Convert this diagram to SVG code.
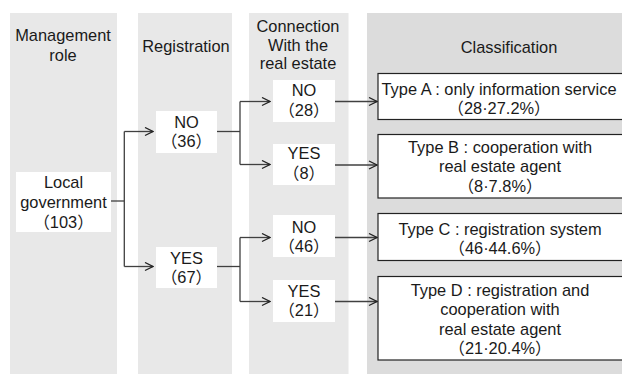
<svg xmlns="http://www.w3.org/2000/svg" width="622" height="374" viewBox="0 0 622 374">
<defs>
<style>
text{font-family:"Liberation Sans","Noto Sans CJK JP",Arial,sans-serif;font-size:16.4px;fill:#1a1a1a;text-anchor:middle}
.col{fill:#e8e8e8}
.col4{fill:#dcdcdc}
.box{fill:#ffffff}
.tbox{fill:#ffffff;stroke:#222;stroke-width:1.2}
.ln{fill:none;stroke:#404040;stroke-width:1.3}
</style>
<marker id="arr" viewBox="0 0 10 10" refX="9" refY="5" markerWidth="10" markerHeight="10" markerUnits="userSpaceOnUse" orient="auto">
<path d="M1,1 L9,5 L1,9" fill="none" stroke="#222" stroke-width="1.3"/>
</marker>
</defs>
<rect width="622" height="374" fill="#ffffff"/>
<g id="columns">
<rect class="col" x="10" y="13" width="107" height="361"/>
<rect class="col" x="138" y="13" width="94" height="361"/>
<rect class="col" x="249" y="13" width="99.5" height="361"/>
<rect class="col4" x="367" y="13" width="255" height="361"/>
<text x="63" y="41">Management</text>
<text x="63" y="61">role</text>
<text x="186" y="52">Registration</text>
<text x="298" y="32">Connection</text>
<text x="298" y="50.5">With the</text>
<text x="298" y="69">real estate</text>
<text x="509" y="53">Classification</text>
</g>
<g id="connectors">
<path class="ln" d="M111,201 H124.3"/>
<path class="ln" d="M124.3,131.5 V266.5"/>
<path class="ln" d="M124.3,131.5 H153" marker-end="url(#arr)"/>
<path class="ln" d="M124.3,266.5 H153" marker-end="url(#arr)"/>
<path class="ln" d="M217,131.5 H240"/>
<path class="ln" d="M240,101.5 V164.5"/>
<path class="ln" d="M240,101.5 H270" marker-end="url(#arr)"/>
<path class="ln" d="M240,164.5 H270" marker-end="url(#arr)"/>
<path class="ln" d="M217,266.5 H240"/>
<path class="ln" d="M240,237.5 V301.5"/>
<path class="ln" d="M240,237.5 H270" marker-end="url(#arr)"/>
<path class="ln" d="M240,301.5 H270" marker-end="url(#arr)"/>
<path class="ln" d="M335,101.5 H377" marker-end="url(#arr)"/>
<path class="ln" d="M335,165 H377" marker-end="url(#arr)"/>
<path class="ln" d="M335,237.5 H377" marker-end="url(#arr)"/>
<path class="ln" d="M335,301.5 H377" marker-end="url(#arr)"/>
</g>
<g id="local">
<rect class="box" x="16" y="172" width="95" height="60"/>
<text x="63.5" y="188">Local</text>
<text x="63.5" y="208">government</text>
<text x="63.5" y="227.5">（103）</text>
</g>
<g id="reg-no">
<rect class="box" x="156" y="111" width="61" height="42"/>
<text x="186.5" y="128">NO</text>
<text x="186.5" y="147">（36）</text>
</g>
<g id="reg-yes">
<rect class="box" x="156" y="247" width="61" height="41"/>
<text x="186.5" y="264">YES</text>
<text x="186.5" y="283">（67）</text>
</g>
<g id="con-no-28">
<rect class="box" x="273" y="80" width="62" height="42"/>
<text x="304" y="96">NO</text>
<text x="304" y="116">（28）</text>
</g>
<g id="con-yes-8">
<rect class="box" x="273" y="144" width="62" height="41"/>
<text x="304" y="159">YES</text>
<text x="304" y="178.5">（8）</text>
</g>
<g id="con-no-46">
<rect class="box" x="273" y="215" width="62" height="42"/>
<text x="304" y="233">NO</text>
<text x="304" y="252">（46）</text>
</g>
<g id="con-yes-21">
<rect class="box" x="273" y="280" width="62" height="42"/>
<text x="304" y="297">YES</text>
<text x="304" y="316">（21）</text>
</g>
<g id="type-a">
<rect class="tbox" x="378" y="73.5" width="250" height="46"/>
<text x="499" y="94.5">Type A : only information service</text>
<text x="499" y="114">（28·27.2%）</text>
</g>
<g id="type-b">
<rect class="tbox" x="378" y="134.5" width="250" height="63.5"/>
<text x="500" y="152.5">Type B : cooperation with</text>
<text x="500" y="172">real estate agent</text>
<text x="500" y="191.5">（8·7.8%）</text>
</g>
<g id="type-c">
<rect class="tbox" x="378" y="213.5" width="250" height="47"/>
<text x="500" y="234.5">Type C : registration system</text>
<text x="500" y="254">（46·44.6%）</text>
</g>
<g id="type-d">
<rect class="tbox" x="378" y="276.5" width="250" height="83.5"/>
<text x="500" y="295.5">Type D : registration and</text>
<text x="500" y="315">cooperation with</text>
<text x="500" y="334.5">real estate agent</text>
<text x="500" y="354">（21·20.4%）</text>
</g>
</svg>
